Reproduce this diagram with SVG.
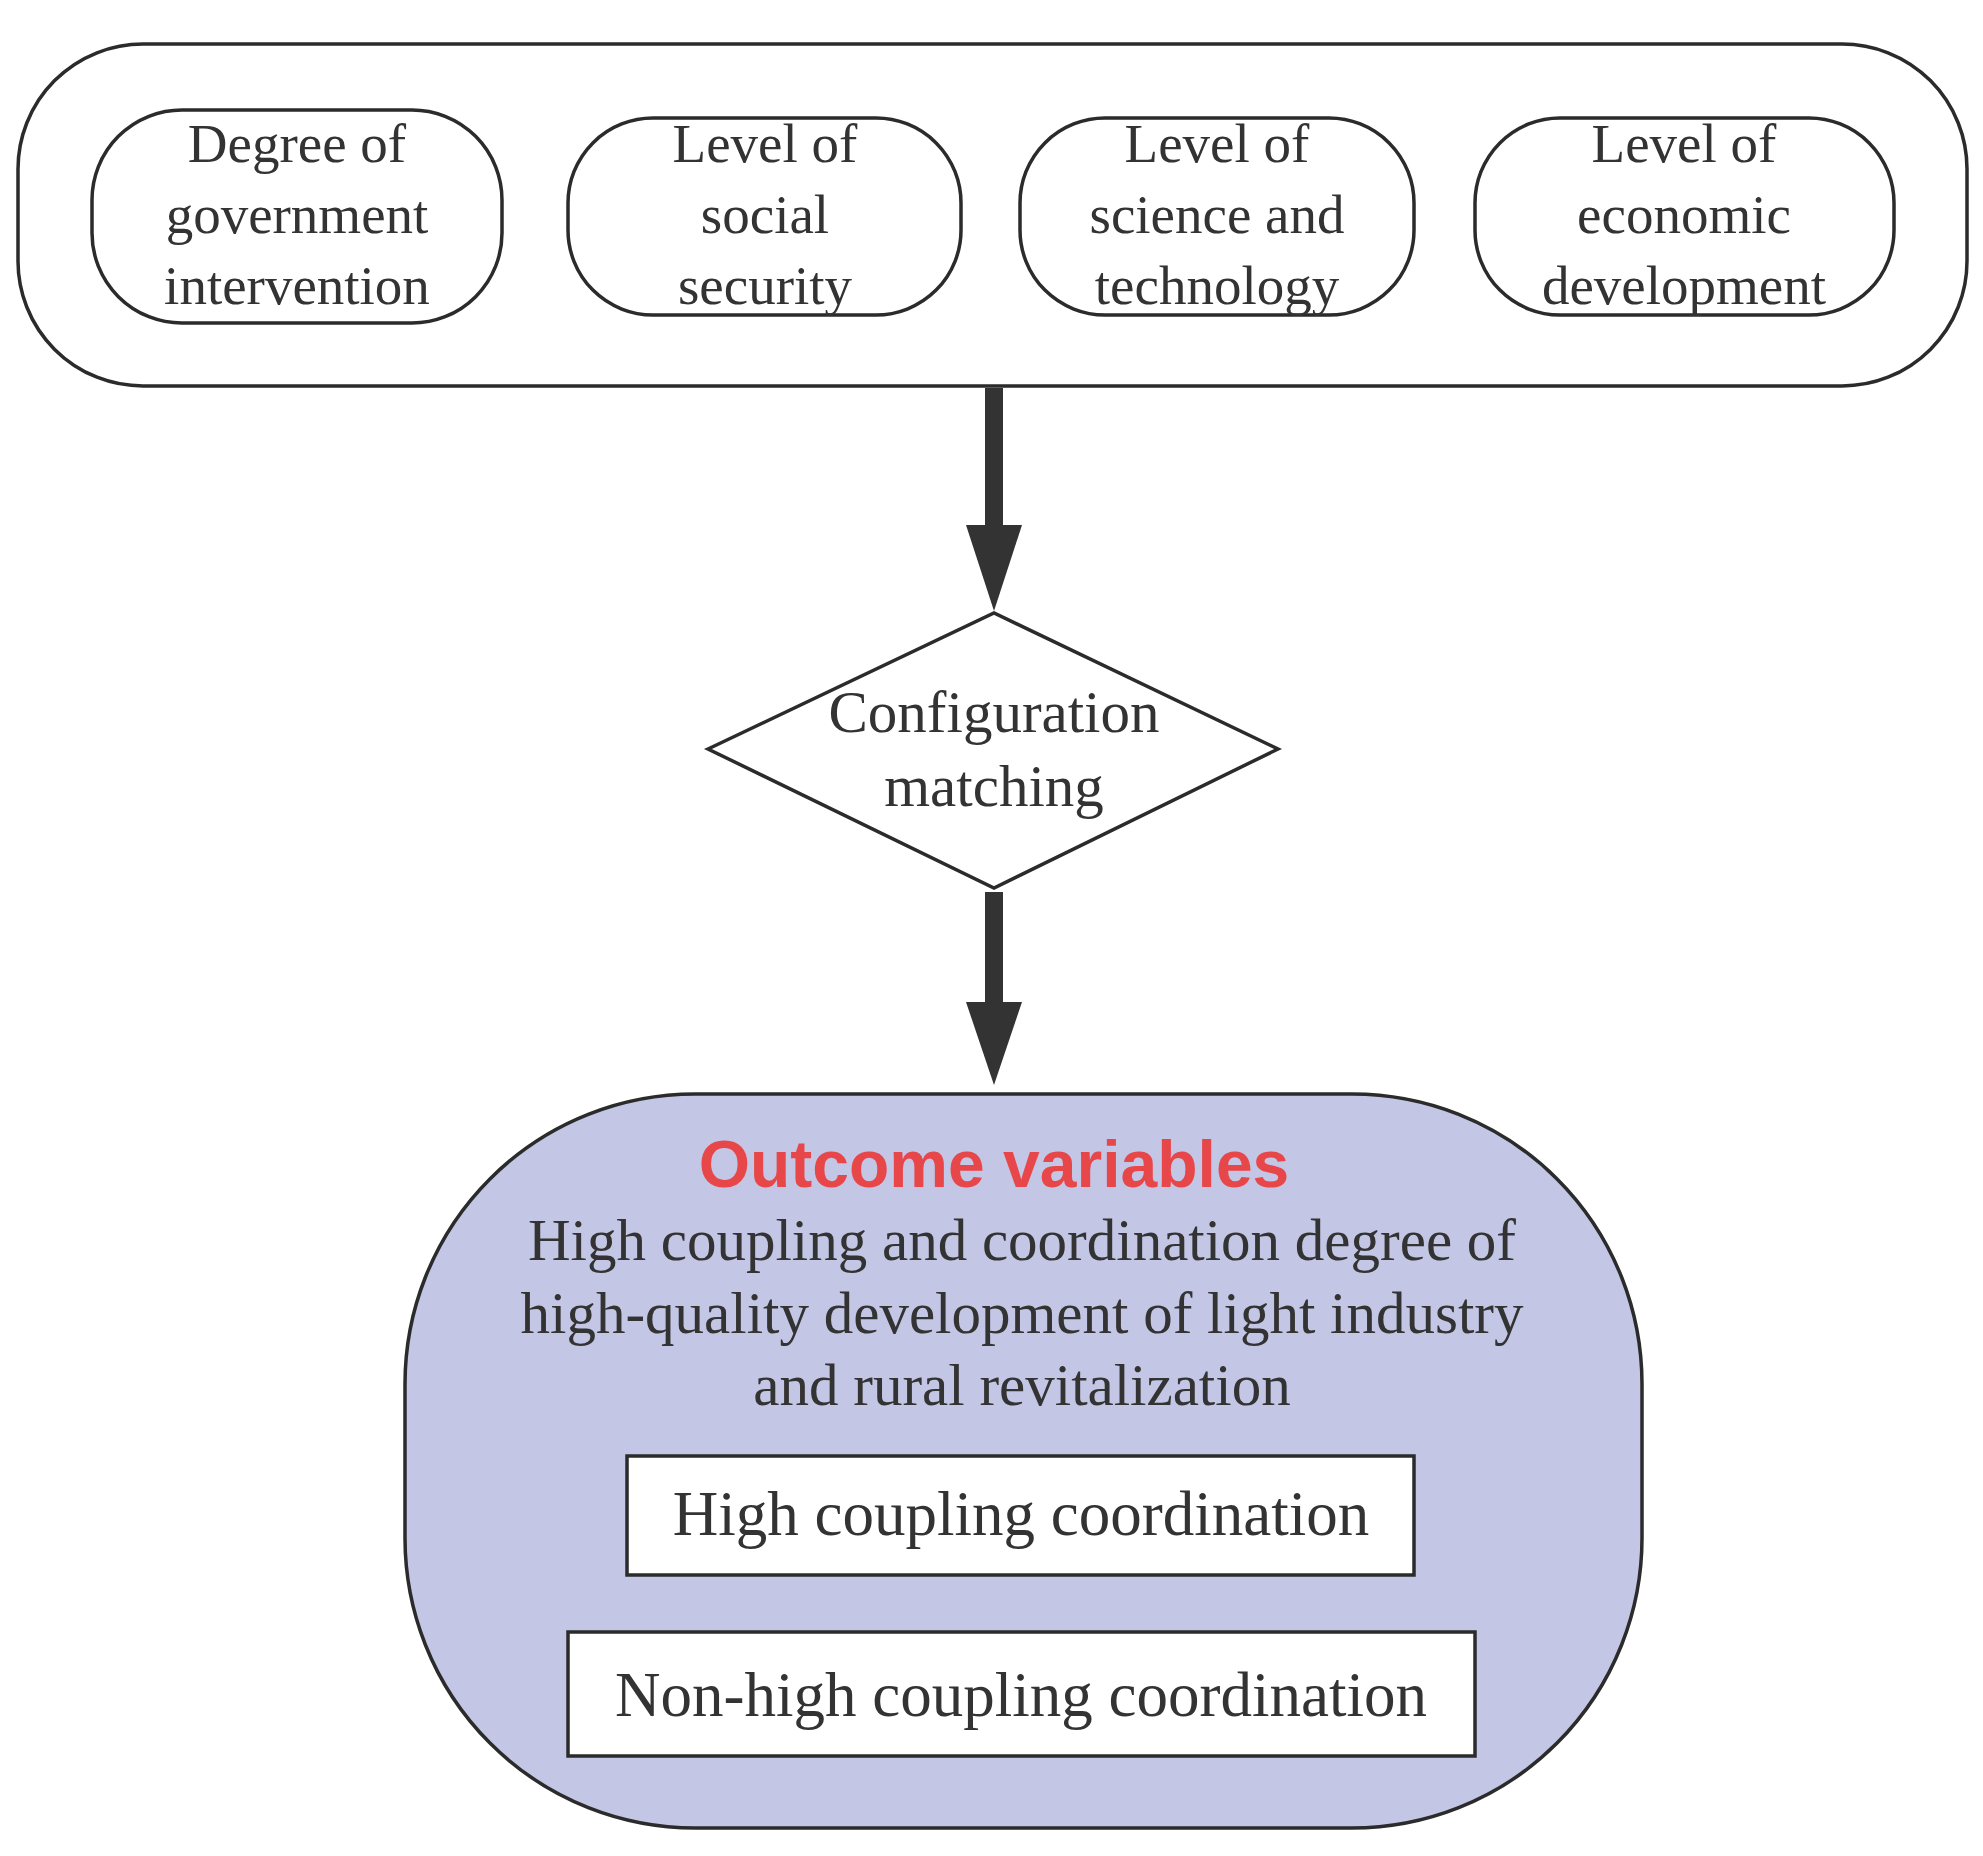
<svg xmlns="http://www.w3.org/2000/svg" width="1983" height="1856" viewBox="0 0 1983 1856">
<style>
.b{fill:#fff;stroke:#2b2b2b;stroke-width:3.5}
.t{font-family:"Liberation Serif",serif;font-size:55px;fill:#333;text-anchor:middle;dominant-baseline:central}
.c{font-family:"Liberation Serif",serif;font-size:59px;fill:#333;text-anchor:middle;dominant-baseline:central}
.t2{font-family:"Liberation Serif",serif;font-size:63px;fill:#333;text-anchor:middle;dominant-baseline:central}
.h{font-family:"Liberation Sans",sans-serif;font-size:66px;font-weight:bold;fill:#e8474a;text-anchor:middle;dominant-baseline:central}
</style>
<rect width="1983" height="1856" fill="#fff"/>
<g id="inputs">
<rect class="b" x="18" y="44" width="1949" height="342" rx="125"/>
</g>
<g id="n1"><rect class="b" x="92" y="110" width="410" height="213" rx="90"/>
<text class="t" x="297" y="143">Degree of</text><text class="t" x="297" y="214">government</text><text class="t" x="297" y="285">intervention</text></g>
<g id="n2"><rect class="b" x="568" y="118" width="393" height="197" rx="85"/>
<text class="t" x="765" y="143">Level of</text><text class="t" x="765" y="214">social</text><text class="t" x="765" y="285">security</text></g>
<g id="n3"><rect class="b" x="1020" y="118" width="394" height="197" rx="85"/>
<text class="t" x="1217" y="143">Level of</text><text class="t" x="1217" y="214">science and</text><text class="t" x="1217" y="285">technology</text></g>
<g id="n4"><rect class="b" x="1475" y="118" width="419" height="197" rx="85"/>
<text class="t" x="1684" y="143">Level of</text><text class="t" x="1684" y="214">economic</text><text class="t" x="1684" y="285">development</text></g>
<g id="connectors" fill="#333">
<rect x="985" y="388" width="18" height="140"/>
<polygon points="966,525 1022,525 994,611"/>
<rect x="985" y="892" width="18" height="113"/>
<polygon points="966,1002 1022,1002 994,1085"/>
</g>
<g id="diamond"><polygon class="b" points="708,749 994,613 1278,749 994,888"/>
<text class="c" x="994" y="712">Configuration</text><text class="c" x="994" y="786">matching</text></g>
<g id="outcome">
<rect x="405" y="1094" width="1237" height="734" rx="290" fill="#c3c6e4" stroke="#2b2b2b" stroke-width="3.5"/>
<text class="h" x="994" y="1164">Outcome variables</text>
<text class="c" x="1022" y="1240">High coupling and coordination degree of</text>
<text class="c" x="1022" y="1313">high-quality development of light industry</text>
<text class="c" x="1022" y="1385">and rural revitalization</text>
</g>
<g id="r1"><rect class="b" x="627" y="1456" width="787" height="119"/><text class="t2" x="1021" y="1514">High coupling coordination</text></g>
<g id="r2"><rect class="b" x="568" y="1632" width="907" height="124"/><text class="t2" x="1021" y="1695">Non-high coupling coordination</text></g>
</svg>
